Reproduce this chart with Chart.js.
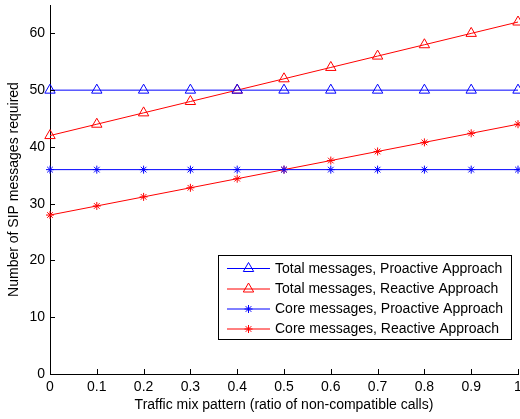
<!DOCTYPE html>
<html><head><meta charset="utf-8">
<script src="https://cdn.jsdelivr.net/npm/chart.js@4/dist/chart.umd.min.js"></script>
<style>html,body{margin:0;padding:0;background:#fff}#wrap{width:520px;height:419px;position:relative}canvas{display:block}</style>
</head><body><div id="wrap"><canvas id="c" width="520" height="419"></canvas></div>
<script>
const xValues = [0, 0.1, 0.2, 0.3, 0.4, 0.5, 0.6, 0.7, 0.8, 0.9, 1];
const totalProactive = [50, 50, 50, 50, 50, 50, 50, 50, 50, 50, 50];
const totalReactive = [42, 44, 46, 48, 50, 52, 54, 56, 58, 60, 62];
const coreProactive = [36, 36, 36, 36, 36, 36, 36, 36, 36, 36, 36];
const coreReactive = [28, 29.6, 31.2, 32.8, 34.4, 36, 37.6, 39.2, 40.8, 42.4, 44];
const xTicks = [0, 0.1, 0.2, 0.3, 0.4, 0.5, 0.6, 0.7, 0.8, 0.9, 1];
const xTickLabels = ['0', '0.1', '0.2', '0.3', '0.4', '0.5', '0.6', '0.7', '0.8', '0.9', '1'];
const yTicks = [0, 10, 20, 30, 40, 50, 60];
const yTickLabels = ['0', '10', '20', '30', '40', '50', '60'];
const seriesNames = ['Total messages, Proactive Approach', 'Total messages, Reactive Approach', 'Core messages, Proactive Approach', 'Core messages, Reactive Approach'];
const xTitle = 'Traffic mix pattern (ratio of non-compatible calls)';
const yTitle = 'Number of SIP messages required';

const FONT = 'Arial, "Liberation Sans", sans-serif';
const toPts = arr => arr.map((v, i) => ({x: xValues[i], y: v}));
const mk = (label, data, color, style, r) => ({
  label, data: toPts(data), borderColor: color, backgroundColor: 'rgba(0,0,0,0)',
  borderWidth: 1, pointStyle: style, pointRadius: r, pointHoverRadius: r,
  pointBorderColor: color, pointBackgroundColor: 'rgba(0,0,0,0)', pointBorderWidth: 1,
  tension: 0, clip: false, fill: false
});
const datasets = [
  mk(seriesNames[0], totalProactive, '#0000FF', 'triangle', 6),
  mk(seriesNames[1], totalReactive, '#FF0000', 'triangle', 6),
  mk(seriesNames[2], coreProactive, '#0000FF', 'star', 4),
  mk(seriesNames[3], coreReactive, '#FF0000', 'star', 4)
];

function drawMarker(ctx, style, r, x, y, color) {
  ctx.save();
  ctx.strokeStyle = color; ctx.lineWidth = 1;
  ctx.beginPath();
  if (style === 'triangle') {
    for (let k = 0; k < 3; k++) {
      const a = k * 2 * Math.PI / 3;
      const px = x + Math.sin(a) * r, py = y - Math.cos(a) * r;
      if (k === 0) ctx.moveTo(px, py); else ctx.lineTo(px, py);
    }
    ctx.closePath();
  } else {
    ctx.moveTo(x - r, y); ctx.lineTo(x + r, y);
    ctx.moveTo(x, y - r); ctx.lineTo(x, y + r);
    const d = r * Math.SQRT1_2;
    ctx.moveTo(x - d, y - d); ctx.lineTo(x + d, y + d);
    ctx.moveTo(x - d, y + d); ctx.lineTo(x + d, y - d);
  }
  ctx.stroke();
  ctx.restore();
}

const extras = {
  id: 'extras',
  afterDraw(chart) {
    const ctx = chart.ctx;
    const xs = chart.scales.x, ys = chart.scales.y;
    const ca = chart.chartArea;
    ctx.save();
    ctx.strokeStyle = '#000'; ctx.lineWidth = 1;
    ctx.beginPath();
    xTicks.forEach(v => {
      const px = Math.round(xs.getPixelForValue(v)) + 0.5;
      ctx.moveTo(px, ca.bottom); ctx.lineTo(px, ca.bottom - 5);
    });
    yTicks.forEach(v => {
      const py = Math.round(ys.getPixelForValue(v)) + 0.5;
      ctx.moveTo(ca.left, py); ctx.lineTo(ca.left + 5, py);
    });
    ctx.stroke();
    // legend box
    const bx = 218.5, by = 255.5, bw = 293, bh = 84;
    ctx.fillStyle = '#fff';
    ctx.fillRect(bx, by, bw, bh);
    ctx.strokeRect(bx, by, bw, bh);
    ctx.font = '14px ' + FONT;
    ctx.textBaseline = 'middle';
    ctx.textAlign = 'left';
    const rowY = [268, 288.5, 308.5, 328.5];
    chart.data.datasets.forEach((ds, i) => {
      const y = rowY[i];
      ctx.strokeStyle = ds.borderColor;
      ctx.beginPath();
      ctx.moveTo(227, y + 0.5); ctx.lineTo(270, y + 0.5);
      ctx.stroke();
      drawMarker(ctx, ds.pointStyle, ds.pointRadius, 248.5, y + 0.5, ds.borderColor);
      ctx.fillStyle = '#000';
      ctx.fillText(ds.label, 275, y + 1);
    });
    ctx.restore();
  }
};

new Chart(document.getElementById('c'), {
  type: 'line',
  data: {datasets},
  options: {
    responsive: false, animation: false, devicePixelRatio: 1,
    layout: {autoPadding: false, padding: {top: 5, right: 2, left: 0, bottom: 0}},
    plugins: {legend: {display: false}, tooltip: {enabled: false}},
    scales: {
      x: {
        type: 'linear', min: 0, max: 1,
        afterBuildTicks: s => { s.ticks = xTicks.map(v => ({value: v})); },
        afterFit: s => { s.height = 45; s.paddingLeft = 0; s.paddingRight = 0; },
        grid: {display: false, drawTicks: false},
        border: {display: true, color: '#000', width: 1},
        ticks: {
          color: '#000', font: {family: FONT, size: 14}, padding: 5, maxRotation: 0, autoSkip: false,
          callback: (v) => { const i = xTicks.indexOf(Math.round(v * 10) / 10); return i >= 0 ? xTickLabels[i] : ''; }
        },
        title: {display: true, text: xTitle, color: '#000', font: {family: FONT, size: 14}, padding: {top: 0, bottom: 5}}
      },
      y: {
        min: 0, max: 65,
        afterBuildTicks: s => { s.ticks = yTicks.map(v => ({value: v})); },
        afterFit: s => { s.width = 50; s.paddingTop = 0; s.paddingBottom = 0; },
        grid: {display: false, drawTicks: false},
        border: {display: true, color: '#000', width: 1},
        ticks: {
          color: '#000', font: {family: FONT, size: 14}, padding: 5,
          callback: (v) => { const i = yTicks.indexOf(v); return i >= 0 ? yTickLabels[i] : ''; }
        },
        title: {display: true, text: yTitle, color: '#000', font: {family: FONT, size: 14}, padding: {top: 6, bottom: 0}}
      }
    }
  },
  plugins: [extras]
});
</script>
</body></html>
